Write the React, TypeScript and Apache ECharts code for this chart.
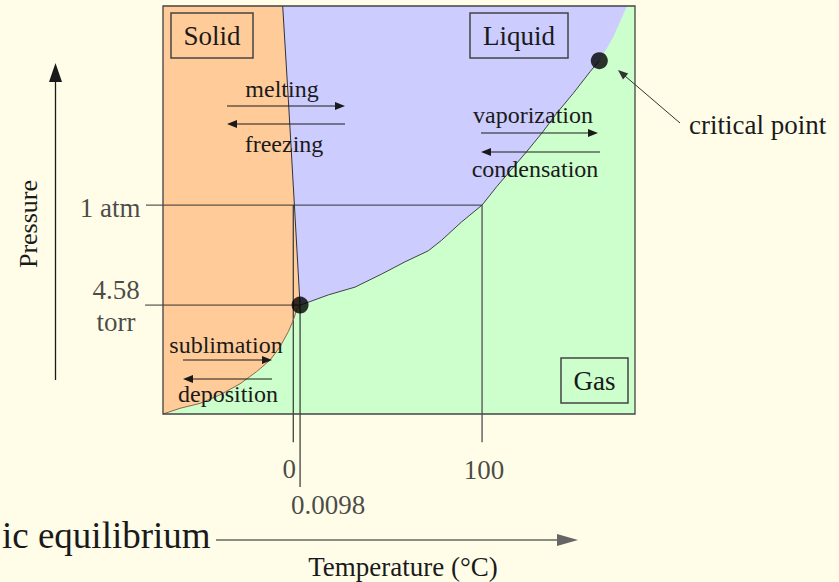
import React, { useEffect, useRef } from "react";
import * as echarts from "echarts";

const SERIF = "'Liberation Serif', 'Times New Roman', serif";

// Schematic (not to scale) coordinates: x ~ temperature, y ~ pressure
const temperatureRange = [-69, 181];
const pressureRange = [0, 100];

const meltingCurve = [[-5.6, 100], [-2.6, 77], [0.6, 51.2], [3.6, 26.7]];
const sublimationCurve = [
  [-69, 0], [-60, 1.4], [-49.4, 2.6], [-38.8, 4.7], [-28.2, 7.4], [-19.4, 10.4],
  [-12.3, 13.2], [-7, 16.5], [-2.6, 20.2], [0, 23], [1.8, 25.5], [3.6, 26.7],
];
const vaporizationCurve = [
  [3.6, 26.7], [6.2, 27.1], [18.6, 29.2], [32.7, 31.1], [46.8, 34.3], [59.2, 37.3],
  [71.5, 40], [78.6, 42.6], [89.2, 47.1], [100, 51.2], [107.7, 55.7], [123.6, 64.3],
  [131.6, 68.8], [139.5, 73.7], [148.3, 78.6], [157.2, 83.9], [162.1, 86.6],
];
const supercriticalEdge = [[162.1, 86.6], [169.5, 92.5], [176.6, 100]];

const triplePoint = [3.6, 26.7];
const criticalPoint = [162.1, 86.6];
const oneAtm = 51.2;
const torr458 = 26.7;
const boilingPoint = 100;

const pressureTickLabels = ["1 atm", "4.58\ntorr"];
const pressureTickValues = [51.2, 26.7];
const temperatureTickLabels = ["0", "0.0098", "100"];
const temperatureTickValues = [0, 3.6, 100];

// guide line extents (data units beyond the plot frame)
const guideLeft = -78.5;
const guideBottomShort = -6.9;
const guideBottomLong = -17.9;

const COLORS = {
  bg: "#FFFDE8",
  solid: "#FFCC99",
  liquid: "#CCCCFF",
  gas: "#CCFFCC",
  ink: "#1a1a1a",
  guide: "#333333",
};

function polygonSeries(name: string, points: number[][], color: string, z: number) {
  return {
    type: "custom",
    name,
    z,
    silent: true,
    clip: false,
    data: [[0, 0]],
    renderItem: (_p: any, api: any) => ({
      type: "polygon",
      shape: { points: points.map((p) => api.coord(p)) },
      style: { fill: color, stroke: color, lineWidth: 0.5 },
    }),
  };
}

function polylineSeries(name: string, points: number[][], color: string, width: number, z: number) {
  return {
    type: "custom",
    name,
    z,
    silent: true,
    clip: false,
    data: [[0, 0]],
    renderItem: (_p: any, api: any) => ({
      type: "polyline",
      shape: { points: points.map((p) => api.coord(p)) },
      style: { fill: "none", stroke: color, lineWidth: width },
    }),
  };
}

function font(size: number) {
  return `${size}px ${SERIF}`;
}

function text(t: string, x: number, y: number, size: number, align = "center", extra: any = {}) {
  return {
    type: "text",
    x,
    y,
    z: 20,
    silent: true,
    ...extra,
    style: {
      text: t,
      font: font(size),
      fill: COLORS.ink,
      align,
      textAlign: align,
      verticalAlign: "middle",
      textVerticalAlign: "middle",
    },
  };
}

function arrow(x1: number, y1: number, x2: number, y2: number, len: number, half: number, color = COLORS.ink, width = 1) {
  const dx = x2 - x1;
  const dy = y2 - y1;
  const d = Math.sqrt(dx * dx + dy * dy);
  const ux = dx / d;
  const uy = dy / d;
  const bx = x2 - ux * len;
  const by = y2 - uy * len;
  const px = -uy * half;
  const py = ux * half;
  return [
    { type: "line", z: 20, silent: true, shape: { x1, y1, x2: bx + ux * 2, y2: by + uy * 2 }, style: { stroke: color, lineWidth: width } },
    {
      type: "polygon",
      z: 20,
      silent: true,
      shape: { points: [[x2, y2], [bx + px, by + py], [bx - px, by - py]] },
      style: { fill: color },
    },
  ];
}

function box(t: string, x: number, y: number, w: number, h: number, size: number) {
  return [
    { type: "rect", z: 20, silent: true, shape: { x, y, width: w, height: h }, style: { fill: "none", stroke: "#444", lineWidth: 1.5 } },
    text(t, x + w / 2, y + h / 2, size),
  ];
}

export default function App() {
  const ref = useRef<HTMLDivElement>(null);

  useEffect(() => {
    if (!ref.current) return;
    const chart = echarts.init(ref.current, null, { renderer: "svg" });

    const solidRegion = [[temperatureRange[0], pressureRange[1]], ...meltingCurve, ...sublimationCurve.slice(0, -1).reverse()];
    const liquidRegion = [...meltingCurve, ...vaporizationCurve.slice(1), ...supercriticalEdge.slice(1)];

    const frameSeries = {
      type: "custom",
      name: "frame",
      z: 8,
      silent: true,
      clip: false,
      data: [[0, 0]],
      renderItem: (_p: any, api: any) => {
        const tl = api.coord([temperatureRange[0], pressureRange[1]]);
        const br = api.coord([temperatureRange[1], pressureRange[0]]);
        return {
          type: "rect",
          shape: { x: tl[0], y: tl[1], width: br[0] - tl[0], height: br[1] - tl[1] },
          style: { fill: "none", stroke: "#444", lineWidth: 1.3 },
        };
      },
    };

    const pressureTickSeries = {
      type: "scatter",
      name: "pressure ticks",
      z: 9,
      silent: true,
      clip: false,
      symbolSize: 1,
      itemStyle: { color: "rgba(0,0,0,0)" },
      data: pressureTickLabels.map((label, i) => ({
        value: [guideLeft, pressureTickValues[i]],
        label: {
          show: true,
          formatter: label,
          position: i === 0 ? "left" : "inside",
          distance: 4,
          offset: i === 0 ? [0, 3] : [-29, 1],
          align: i === 0 ? "right" : "center",
          fontFamily: SERIF,
          fontSize: 27,
          lineHeight: 32,
          color: COLORS.ink,
        },
      })),
    };

    const tempOffsets = [[-4, 26.5], [28, 17.5], [2, 27.5]];
    const temperatureTickSeries = {
      type: "scatter",
      name: "temperature ticks",
      z: 9,
      silent: true,
      clip: false,
      symbolSize: 1,
      itemStyle: { color: "rgba(0,0,0,0)" },
      data: temperatureTickLabels.map((label, i) => ({
        value: [temperatureTickValues[i], i === 1 ? guideBottomLong : guideBottomShort],
        label: {
          show: true,
          formatter: label,
          position: "inside",
          offset: tempOffsets[i],
          align: "center",
          verticalAlign: "middle",
          fontFamily: SERIF,
          fontSize: 27,
          color: COLORS.ink,
        },
      })),
    };

    const graphics: any[] = [
      ...box("Solid", 171, 13, 82, 45, 27),
      ...box("Liquid", 470, 13, 98, 45, 27),
      ...box("Gas", 561, 358, 67, 45, 27),
      text("melting", 282, 89, 24),
      ...arrow(227, 106, 345, 106, 10, 4),
      ...arrow(345, 124, 227, 124, 10, 4),
      text("freezing", 284, 144, 24),
      text("vaporization", 533, 115, 24),
      ...arrow(481, 133, 598, 133, 10, 4),
      ...arrow(600, 152, 481, 152, 10, 4),
      text("condensation", 535, 169, 24),
      text("sublimation", 226, 345, 24),
      ...arrow(183, 360, 272, 360, 10, 4),
      ...arrow(272, 379, 183, 379, 10, 4),
      text("deposition", 228, 394, 24),
      text("critical point", 689, 125, 27, "left"),
      ...arrow(680, 123, 618, 70, 10, 4, "#333", 1),
      ...arrow(55.5, 380, 55.5, 63, 19, 6.5, COLORS.ink, 1.3),
      text("Pressure", 28.5, 224, 26, "center", { rotation: Math.PI / 2 }),
      ...arrow(216, 540, 578, 540, 21, 6, "#666", 1.5),
      text("Temperature (°C)", 403, 567, 27),
      text("ic equilibrium", 2, 535, 37, "left"),
    ];

    chart.setOption({
      animation: false,
      backgroundColor: COLORS.bg,
      grid: {
        left: 163,
        top: 6,
        width: 472,
        height: 408,
        show: true,
        backgroundColor: COLORS.gas,
        borderWidth: 0,
      },
      xAxis: { type: "value", min: temperatureRange[0], max: temperatureRange[1], show: false },
      yAxis: { type: "value", min: pressureRange[0], max: pressureRange[1], show: false },
      series: [
        polygonSeries("solid", solidRegion, COLORS.solid, 1),
        polygonSeries("liquid", liquidRegion, COLORS.liquid, 1),
        polylineSeries("1 atm", [[guideLeft + 0.5, oneAtm], [boilingPoint, oneAtm]], COLORS.guide, 1, 3),
        polylineSeries("4.58 torr", [[guideLeft, torr458], triplePoint], COLORS.guide, 1, 3),
        polylineSeries("0 °C", [[0, oneAtm], [0, guideBottomShort]], COLORS.guide, 1.2, 3),
        polylineSeries("0.0098 °C", [triplePoint, [triplePoint[0], guideBottomLong]], COLORS.guide, 1.2, 3),
        polylineSeries("100 °C", [[boilingPoint, oneAtm], [boilingPoint, guideBottomShort]], "#666", 1.5, 3),
        polylineSeries("melting curve", meltingCurve, "#333", 1, 4),
        polylineSeries("sublimation curve", sublimationCurve, "#8a6a4a", 1, 4),
        polylineSeries("vaporization curve", vaporizationCurve, "#444", 1, 4),
        frameSeries,
        {
          type: "scatter",
          name: "points",
          z: 9,
          silent: true,
          clip: false,
          symbolSize: 17,
          itemStyle: { color: "#000" },
          data: [triplePoint, criticalPoint],
        },
        pressureTickSeries,
        temperatureTickSeries,
      ],
      graphic: graphics,
    });

    return () => chart.dispose();
  }, []);

  return (
    <div
      ref={ref}
      style={{ position: "fixed", left: 0, top: 0, width: 839, height: 582 }}
    />
  );
}
